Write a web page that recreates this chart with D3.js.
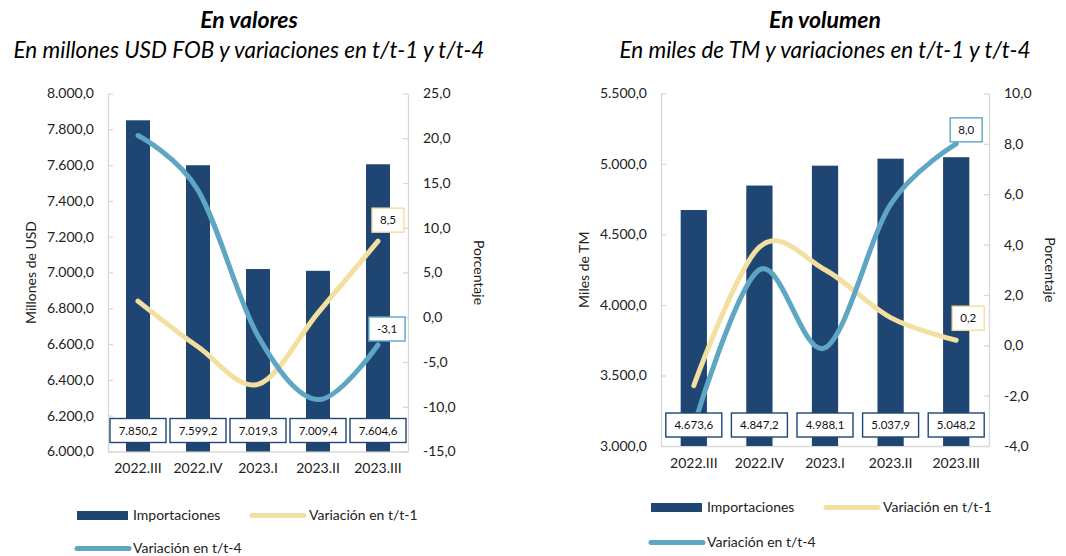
<!DOCTYPE html>
<html>
<head>
<meta charset="utf-8">
<script src="https://cdn.jsdelivr.net/npm/d3@7"></script>
<style>
  body { margin: 0; background: #fff; }
  svg { display: block; font-family: Lato, "Open Sans", sans-serif; }
</style>
</head>
<body>
<svg id="chart" width="1066" height="556"></svg>
<script>
// Dati
const categories = ["2022.III", "2022.IV", "2023.I", "2023.II", "2023.III"];

const valoresImport = [7850.2, 7599.2, 7019.3, 7009.4, 7604.6];
const valoresVarT1 = [1.8, -3.3, -7.5, 0.5, 8.5];
const valoresVarT4 = [20.3, 14.2, -2.1, -9.2, -3.1];

const volumenImport = [4673.6, 4847.2, 4988.1, 5037.9, 5048.2];
const volumenVarT1 = [-1.6, 3.9, 3.0, 1.1, 0.2];
const volumenVarT4 = [-3.2, 3.0, -0.1, 5.6, 8.0];

const legendLabels = ["Importaciones", "Variación en t/t-1", "Variación en t/t-4"];

const colBar = "#1f4673";
const colT1 = "#f3df9f";
const colT4 = "#5ea6c3";
const colAxis = "#d9d9d9";
const colText = "#222";

// Formato numerico spagnolo
const locale = d3.formatLocale({ decimal: ",", thousands: ".", grouping: [3], currency: ["", ""], minus: "-" });
const fmt = locale.format(",.1f");

const svg = d3.select("#chart");

function drawChart(cfg) {
  const g = svg.append("g");
  const { x0, x1, y0, y1 } = cfg;

  const x = d3.scaleBand().domain(categories).range([x0, x1]);
  const yL = d3.scaleLinear().domain(cfg.leftDomain).range([y1, y0]);
  const yR = d3.scaleLinear().domain(cfg.rightDomain).range([y1, y0]);

  // Titoli
  g.append("text")
    .attr("x", cfg.titleX).attr("y", 28)
    .attr("text-anchor", "middle")
    .style("font-size", "23px").style("font-weight", "bold").style("font-style", "italic")
    .attr("fill", "#000")
    .text(cfg.title);
  g.append("text")
    .attr("x", cfg.titleX).attr("y", 58)
    .attr("text-anchor", "middle")
    .style("font-size", "22.5px").style("font-style", "italic")
    .attr("fill", "#000")
    .text(cfg.subtitle);

  // Assi
  const axL = g.append("g")
    .attr("transform", `translate(${x0},0)`)
    .call(d3.axisLeft(yL).tickValues(d3.range(cfg.leftDomain[0], cfg.leftDomain[1] + 1, cfg.leftStep))
      .tickFormat(fmt).tickSizeInner(-5).tickSizeOuter(0).tickPadding(14));
  const axR = g.append("g")
    .attr("transform", `translate(${x1},0)`)
    .call(d3.axisRight(yR).tickValues(d3.range(cfg.rightDomain[0], cfg.rightDomain[1] + 0.001, cfg.rightStep))
      .tickFormat(fmt).tickSizeInner(-5).tickSizeOuter(0).tickPadding(15));
  const axB = g.append("g")
    .attr("transform", `translate(0,${y1})`)
    .call(d3.axisBottom(x).tickSize(0).tickPadding(12));

  [axL, axR, axB].forEach(a => {
    a.select(".domain").attr("stroke", colAxis).attr("stroke-width", 1.3);
    a.selectAll(".tick line").attr("stroke", colAxis).attr("stroke-width", 1.3);
    a.selectAll(".tick text").attr("fill", colText).style("font-size", "14px").style("font-family", "Lato, sans-serif");
  });

  // Titoli assi
  g.append("text")
    .attr("transform", `translate(${cfg.leftTitleX},${(y0 + y1) / 2}) rotate(-90)`)
    .attr("text-anchor", "middle").attr("dy", "0.35em")
    .style("font-size", "14px").attr("fill", colText)
    .text(cfg.leftTitle);
  g.append("text")
    .attr("transform", `translate(${cfg.rightTitleX},${(y0 + y1) / 2}) rotate(90)`)
    .attr("text-anchor", "middle").attr("dy", "0.35em")
    .style("font-size", "14px").attr("fill", colText)
    .text("Porcentaje");

  // Barre
  const bw = x.bandwidth() * 0.4;
  g.selectAll(".bar")
    .data(cfg.bars)
    .enter()
    .append("rect")
    .attr("class", "bar")
    .attr("x", (d, i) => x(categories[i]) + (x.bandwidth() - bw) / 2)
    .attr("y", d => yL(d))
    .attr("width", bw)
    .attr("height", d => y1 - yL(d))
    .attr("fill", colBar);

  // Linee smussate
  const line = d3.line()
    .x((d, i) => x(categories[i]) + x.bandwidth() / 2)
    .y(d => yR(d))
    .curve(d3.curveCardinal.tension(0));

  g.append("path").datum(cfg.t1)
    .attr("d", line).attr("fill", "none")
    .attr("stroke", colT1).attr("stroke-width", 5).attr("stroke-linecap", "round");
  g.append("path").datum(cfg.t4)
    .attr("d", line).attr("fill", "none")
    .attr("stroke", colT4).attr("stroke-width", 5).attr("stroke-linecap", "round");

  // Etichette delle barre
  cfg.bars.forEach((d, i) => {
    const cx = x(categories[i]) + x.bandwidth() / 2;
    const cy = y1 - 21;
    labelBox(g, cx, cy, fmt(d), colBar, 56, 24);
  });

  // Etichette finali delle linee
  const last = categories.length - 1;
  const lx = x(categories[last]) + x.bandwidth() / 2;
  labelBox(g, lx + cfg.t1Off[0], yR(cfg.t1[last]) + cfg.t1Off[1], fmt(cfg.t1[last]), colT1, null, 24);
  labelBox(g, lx + cfg.t4Off[0], yR(cfg.t4[last]) + cfg.t4Off[1], fmt(cfg.t4[last]), colT4, null, 24);

  // Legenda
  const lg = g.append("g");
  const ly1 = cfg.legendY1, ly2 = cfg.legendY2;
  lg.append("rect").attr("x", cfg.legendX).attr("y", ly1 - 4.5).attr("width", 51).attr("height", 9).attr("fill", colBar);
  lg.append("text").attr("x", cfg.legendX + 56).attr("y", ly1).attr("dy", "0.35em")
    .style("font-size", "14px").attr("fill", colText).text(legendLabels[0]);
  lg.append("line").attr("x1", cfg.legendX2).attr("x2", cfg.legendX2 + 52).attr("y1", ly1).attr("y2", ly1)
    .attr("stroke", colT1).attr("stroke-width", 5).attr("stroke-linecap", "round");
  lg.append("text").attr("x", cfg.legendX2 + 57).attr("y", ly1).attr("dy", "0.35em")
    .style("font-size", "14px").attr("fill", colText).text(legendLabels[1]);
  lg.append("line").attr("x1", cfg.legendX).attr("x2", cfg.legendX + 52).attr("y1", ly2).attr("y2", ly2)
    .attr("stroke", colT4).attr("stroke-width", 5).attr("stroke-linecap", "round");
  lg.append("text").attr("x", cfg.legendX + 56).attr("y", ly2).attr("dy", "0.35em")
    .style("font-size", "14px").attr("fill", colText).text(legendLabels[2]);
}

function labelBox(g, cx, cy, txt, stroke, w, h) {
  const t = g.append("text")
    .attr("x", cx).attr("y", cy).attr("dy", "0.35em")
    .attr("text-anchor", "middle")
    .style("font-size", "11.5px").attr("fill", "#111")
    .text(txt);
  const bw = w || t.node().getComputedTextLength() + 16;
  g.insert("rect", () => t.node())
    .attr("x", cx - bw / 2).attr("y", cy - h / 2)
    .attr("width", bw).attr("height", h)
    .attr("fill", "#fff").attr("stroke", stroke).attr("stroke-width", 1.4);
}

drawChart({
  x0: 108, x1: 408, y0: 93.5, y1: 451.5,
  leftDomain: [6000, 8000], leftStep: 200,
  rightDomain: [-15, 25], rightStep: 5,
  bars: valoresImport, t1: valoresVarT1, t4: valoresVarT4,
  title: "En valores",
  subtitle: "En millones USD FOB y variaciones en t/t-1 y t/t-4",
  titleX: 249,
  leftTitle: "Millones de USD", leftTitleX: 31, rightTitleX: 479,
  t1Off: [10, -21], t4Off: [9, -16],
  legendX: 77, legendX2: 252, legendY1: 515.5, legendY2: 548.5
});

drawChart({
  x0: 661, x1: 989, y0: 93.5, y1: 446,
  leftDomain: [3000, 5500], leftStep: 500,
  rightDomain: [-4, 10], rightStep: 2,
  bars: volumenImport, t1: volumenVarT1, t4: volumenVarT4,
  title: "En volumen",
  subtitle: "En miles de TM y variaciones en t/t-1 y t/t-4",
  titleX: 825,
  leftTitle: "Miles de TM", leftTitleX: 584, rightTitleX: 1050,
  t1Off: [12, -22], t4Off: [10, -14],
  legendX: 651, legendX2: 826, legendY1: 507.5, legendY2: 542.5
});
</script>
</body>
</html>
